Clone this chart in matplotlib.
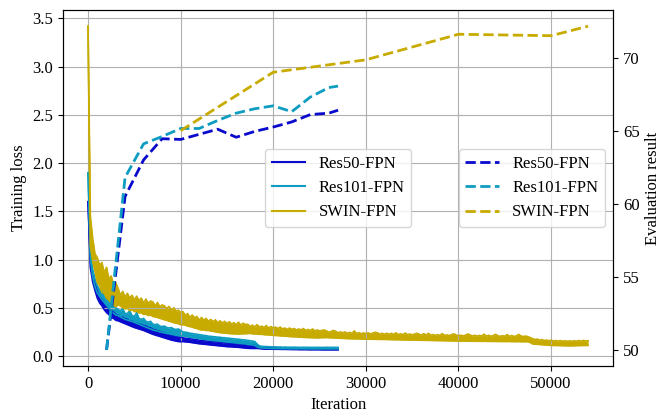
import numpy as np
import matplotlib
matplotlib.use("Agg")
import matplotlib.pyplot as plt

plt.rcParams['font.family'] = ['Liberation Serif', 'DejaVu Serif']
plt.rcParams['font.size'] = 12

# training loss, logged every 250 iterations; the raw curve is very noisy so
# each log window is kept as its lowest and highest value
loss_step = 250

res50_hi = [
    1.60, 0.98, 0.83, 0.74, 0.67, 0.61, 0.59, 0.54, 0.52, 0.49,
    0.46, 0.455, 0.43, 0.42, 0.40, 0.40, 0.385, 0.38, 0.36, 0.36,
    0.345, 0.34, 0.33, 0.325, 0.315, 0.31, 0.295, 0.29, 0.275, 0.27,
    0.26, 0.255, 0.245, 0.24, 0.23, 0.225, 0.215, 0.212, 0.205, 0.202,
    0.195, 0.19, 0.183, 0.184, 0.178, 0.177, 0.171, 0.17, 0.163, 0.164,
    0.158, 0.159, 0.153, 0.154, 0.148, 0.149, 0.143, 0.144, 0.138, 0.139,
    0.133, 0.134, 0.131, 0.132, 0.128, 0.128, 0.123, 0.124, 0.118, 0.118,
    0.113, 0.113, 0.108, 0.098, 0.093, 0.092, 0.088, 0.089, 0.087, 0.088,
    0.086, 0.087, 0.085, 0.086, 0.084, 0.085, 0.084, 0.084, 0.083, 0.084,
    0.082, 0.083, 0.082, 0.083, 0.081, 0.082, 0.081, 0.082, 0.08, 0.082,
    0.08, 0.081, 0.08, 0.081, 0.08, 0.081, 0.08, 0.081, 0.08,
]
res50_lo = [
    1.60, 0.92, 0.77, 0.68, 0.60, 0.55, 0.52, 0.48, 0.45, 0.43,
    0.40, 0.39, 0.37, 0.365, 0.355, 0.345, 0.335, 0.325, 0.315, 0.305,
    0.295, 0.288, 0.28, 0.273, 0.265, 0.255, 0.245, 0.235, 0.225, 0.218,
    0.21, 0.203, 0.195, 0.188, 0.18, 0.173, 0.165, 0.16, 0.155, 0.15,
    0.148, 0.15, 0.147, 0.145, 0.142, 0.138, 0.135, 0.131, 0.127, 0.125,
    0.122, 0.12, 0.117, 0.115, 0.112, 0.11, 0.107, 0.105, 0.102, 0.10,
    0.097, 0.096, 0.095, 0.093, 0.092, 0.09, 0.087, 0.085, 0.082, 0.08,
    0.079, 0.078, 0.078, 0.079, 0.077, 0.075, 0.072, 0.072, 0.071, 0.071,
    0.07, 0.07, 0.07, 0.069, 0.069, 0.069, 0.068, 0.068, 0.067, 0.067,
    0.067, 0.066, 0.066, 0.066, 0.066, 0.065, 0.065, 0.065, 0.065, 0.065,
    0.065, 0.064, 0.064, 0.064, 0.064, 0.064, 0.064, 0.064, 0.064,
]

res101_hi = [
    1.90, 1.09, 0.90, 0.80, 0.73, 0.69, 0.67, 0.63, 0.60, 0.57,
    0.54, 0.52, 0.50, 0.48, 0.47, 0.49, 0.44, 0.44, 0.47, 0.42,
    0.41, 0.45, 0.39, 0.38, 0.39, 0.36, 0.35, 0.36, 0.33, 0.325,
    0.33, 0.31, 0.305, 0.31, 0.295, 0.29, 0.295, 0.28, 0.275, 0.28,
    0.265, 0.25, 0.247, 0.243, 0.236, 0.233, 0.229, 0.226, 0.221, 0.218,
    0.213, 0.211, 0.205, 0.204, 0.20, 0.199, 0.195, 0.194, 0.19, 0.189,
    0.185, 0.184, 0.18, 0.179, 0.175, 0.174, 0.17, 0.168, 0.165, 0.161,
    0.158, 0.154, 0.15, 0.125, 0.104, 0.101, 0.098, 0.098, 0.096, 0.095,
    0.093, 0.094, 0.092, 0.093, 0.091, 0.092, 0.091, 0.091, 0.09, 0.091,
    0.09, 0.09, 0.089, 0.09, 0.089, 0.09, 0.089, 0.089, 0.089, 0.09,
    0.089, 0.089, 0.089, 0.09, 0.089, 0.089, 0.09, 0.089, 0.089,
]
res101_lo = [
    1.90, 1.01, 0.82, 0.72, 0.655, 0.62, 0.585, 0.555, 0.525, 0.495,
    0.465, 0.445, 0.425, 0.418, 0.405, 0.393, 0.38, 0.373, 0.365, 0.358,
    0.35, 0.34, 0.33, 0.32, 0.31, 0.30, 0.29, 0.28, 0.27, 0.264,
    0.258, 0.251, 0.245, 0.24, 0.235, 0.23, 0.225, 0.22, 0.215, 0.21,
    0.207, 0.21, 0.205, 0.20, 0.195, 0.191, 0.188, 0.184, 0.18, 0.176,
    0.173, 0.169, 0.165, 0.163, 0.16, 0.158, 0.155, 0.153, 0.15, 0.148,
    0.145, 0.143, 0.14, 0.138, 0.135, 0.133, 0.13, 0.128, 0.125, 0.121,
    0.118, 0.114, 0.11, 0.095, 0.087, 0.085, 0.082, 0.081, 0.08, 0.078,
    0.077, 0.077, 0.077, 0.076, 0.076, 0.076, 0.076, 0.075, 0.075, 0.075,
    0.075, 0.075, 0.075, 0.075, 0.074, 0.074, 0.074, 0.074, 0.074, 0.074,
    0.074, 0.074, 0.074, 0.074, 0.074, 0.074, 0.074, 0.074, 0.074,
]

swin_hi = [
    3.42, 1.45, 1.22, 1.06, 1.02, 0.94, 0.97, 0.86, 0.92, 0.80,
    0.83, 0.74, 0.76, 0.70, 0.63, 0.67, 0.61, 0.65, 0.60, 0.63,
    0.58, 0.62, 0.575, 0.60, 0.55, 0.59, 0.545, 0.57, 0.56, 0.52,
    0.555, 0.51, 0.53, 0.52, 0.49, 0.515, 0.47, 0.50, 0.465, 0.475,
    0.45, 0.46, 0.42, 0.44, 0.40, 0.425, 0.395, 0.41, 0.37, 0.40,
    0.37, 0.39, 0.36, 0.38, 0.355, 0.375, 0.345, 0.365, 0.34, 0.36,
    0.335, 0.355, 0.33, 0.345, 0.325, 0.35, 0.32, 0.34, 0.325, 0.33,
    0.305, 0.32, 0.30, 0.325, 0.30, 0.31, 0.295, 0.315, 0.29, 0.305,
    0.29, 0.30, 0.285, 0.30, 0.28, 0.29, 0.275, 0.29, 0.275, 0.285,
    0.27, 0.28, 0.27, 0.285, 0.265, 0.275, 0.265, 0.28, 0.26, 0.27,
    0.26, 0.265, 0.27, 0.26, 0.245, 0.255, 0.265, 0.255, 0.24, 0.25,
    0.24, 0.25, 0.235, 0.245, 0.235, 0.26, 0.232, 0.242, 0.23, 0.24,
    0.23, 0.24, 0.228, 0.238, 0.245, 0.24, 0.226, 0.236, 0.225, 0.235,
    0.225, 0.235, 0.224, 0.24, 0.222, 0.23, 0.221, 0.238, 0.22, 0.228,
    0.219, 0.227, 0.235, 0.226, 0.217, 0.232, 0.216, 0.235, 0.215, 0.222,
    0.214, 0.221, 0.213, 0.232, 0.212, 0.219, 0.211, 0.222, 0.23, 0.217,
    0.209, 0.216, 0.208, 0.215, 0.228, 0.219, 0.207, 0.214, 0.207, 0.213,
    0.206, 0.226, 0.206, 0.215, 0.205, 0.211, 0.225, 0.21, 0.204, 0.21,
    0.204, 0.222, 0.203, 0.212, 0.203, 0.208, 0.224, 0.207, 0.202, 0.206,
    0.201, 0.19, 0.18, 0.17, 0.175, 0.165, 0.17, 0.16, 0.165, 0.158,
    0.163, 0.155, 0.16, 0.154, 0.16, 0.153, 0.158, 0.152, 0.157, 0.152,
    0.158, 0.153, 0.16, 0.155, 0.161, 0.156, 0.158,
]
swin_lo = [
    3.42, 1.15, 0.98, 0.88, 0.76, 0.73, 0.66, 0.65, 0.60, 0.58,
    0.55, 0.53, 0.51, 0.53, 0.52, 0.50, 0.49, 0.495, 0.47, 0.48,
    0.46, 0.465, 0.445, 0.45, 0.43, 0.435, 0.42, 0.425, 0.41, 0.405,
    0.40, 0.39, 0.385, 0.375, 0.37, 0.36, 0.355, 0.345, 0.34, 0.335,
    0.325, 0.325, 0.32, 0.31, 0.305, 0.30, 0.29, 0.285, 0.275, 0.27,
    0.272, 0.265, 0.265, 0.258, 0.256, 0.25, 0.247, 0.242, 0.24, 0.237,
    0.236, 0.232, 0.231, 0.229, 0.228, 0.228, 0.229, 0.23, 0.231, 0.232,
    0.234, 0.23, 0.229, 0.228, 0.225, 0.225, 0.221, 0.22, 0.219, 0.216,
    0.215, 0.212, 0.212, 0.208, 0.208, 0.205, 0.205, 0.201, 0.20, 0.198,
    0.199, 0.195, 0.196, 0.193, 0.192, 0.192, 0.189, 0.19, 0.188, 0.188,
    0.189, 0.19, 0.191, 0.191, 0.19, 0.189, 0.188, 0.186, 0.185, 0.184,
    0.183, 0.181, 0.18, 0.179, 0.179, 0.178, 0.178, 0.177, 0.176, 0.176,
    0.175, 0.175, 0.174, 0.174, 0.173, 0.173, 0.172, 0.172, 0.171, 0.171,
    0.17, 0.17, 0.169, 0.169, 0.168, 0.168, 0.167, 0.167, 0.166, 0.166,
    0.165, 0.165, 0.164, 0.164, 0.163, 0.163, 0.162, 0.162, 0.161, 0.161,
    0.16, 0.16, 0.159, 0.159, 0.158, 0.158, 0.157, 0.157, 0.156, 0.156,
    0.155, 0.155, 0.155, 0.154, 0.154, 0.154, 0.153, 0.153, 0.153, 0.152,
    0.152, 0.152, 0.152, 0.151, 0.151, 0.151, 0.151, 0.15, 0.15, 0.15,
    0.15, 0.15, 0.15, 0.149, 0.149, 0.149, 0.149, 0.148, 0.148, 0.148,
    0.148, 0.14, 0.125, 0.123, 0.121, 0.119, 0.117, 0.115, 0.114, 0.112,
    0.11, 0.109, 0.109, 0.108, 0.108, 0.107, 0.106, 0.106, 0.105, 0.106,
    0.106, 0.107, 0.108, 0.108, 0.109, 0.109, 0.11,
]

# evaluation results at checkpoints
res50_eval_iter = [2000, 4000, 6000, 8000, 10000, 12000, 14000, 16000,
                   18000, 20000, 22000, 24000, 26000, 27000]
res50_eval = [50.0, 60.5, 63.0, 64.45, 64.4, 64.75, 65.1, 64.55,
              64.95, 65.25, 65.6, 66.1, 66.2, 66.4]

res101_eval_iter = [2000, 4000, 6000, 8000, 10000, 12000, 14000, 16000,
                    18000, 20000, 22000, 24000, 26000, 27000]
res101_eval = [50.0, 61.8, 64.1, 64.6, 65.15, 65.15, 65.7, 66.2,
               66.5, 66.7, 66.3, 67.3, 67.95, 68.05]

swin_eval_iter = [10000, 20000, 30000, 40000, 50000, 54000]
swin_eval = [65.0, 69.0, 69.85, 71.6, 71.5, 72.15]

names = ['Res50-FPN', 'Res101-FPN', 'SWIN-FPN']
colors = ['#0A0ACD', '#0E9DC0', '#C8AB00']

fig, ax1 = plt.subplots(figsize=(6.6, 4.18), dpi=100)
fig.subplots_adjust(left=0.0955, right=0.929, bottom=0.1244, top=0.976)

bands = [(res50_lo, res50_hi), (res101_lo, res101_hi), (swin_lo, swin_hi)]
for name, c, (lo, hi) in zip(names, colors, bands):
    it = np.arange(len(hi)) * loss_step
    ax1.fill_between(it, lo, hi, color=c, lw=0)
    ax1.plot(it, hi, color=c, lw=1.2)
    ax1.plot(it, lo, color=c, lw=1.2)
    ax1.plot([], [], color=c, lw=1.5, label=name)  # legend handle

ax1.set_xlabel('Iteration')
ax1.set_ylabel('Training loss')
ax1.grid(True)
ax1.legend(loc='center')

ax2 = ax1.twinx()
evals = [(res50_eval_iter, res50_eval), (res101_eval_iter, res101_eval),
         (swin_eval_iter, swin_eval)]
for name, c, (it, ev) in zip(names, colors, evals):
    ax2.plot(it, ev, '--', color=c, lw=2, label=name)
ax2.set_ylabel('Evaluation result')
ax2.legend(loc='center right')

plt.savefig('out.png')
